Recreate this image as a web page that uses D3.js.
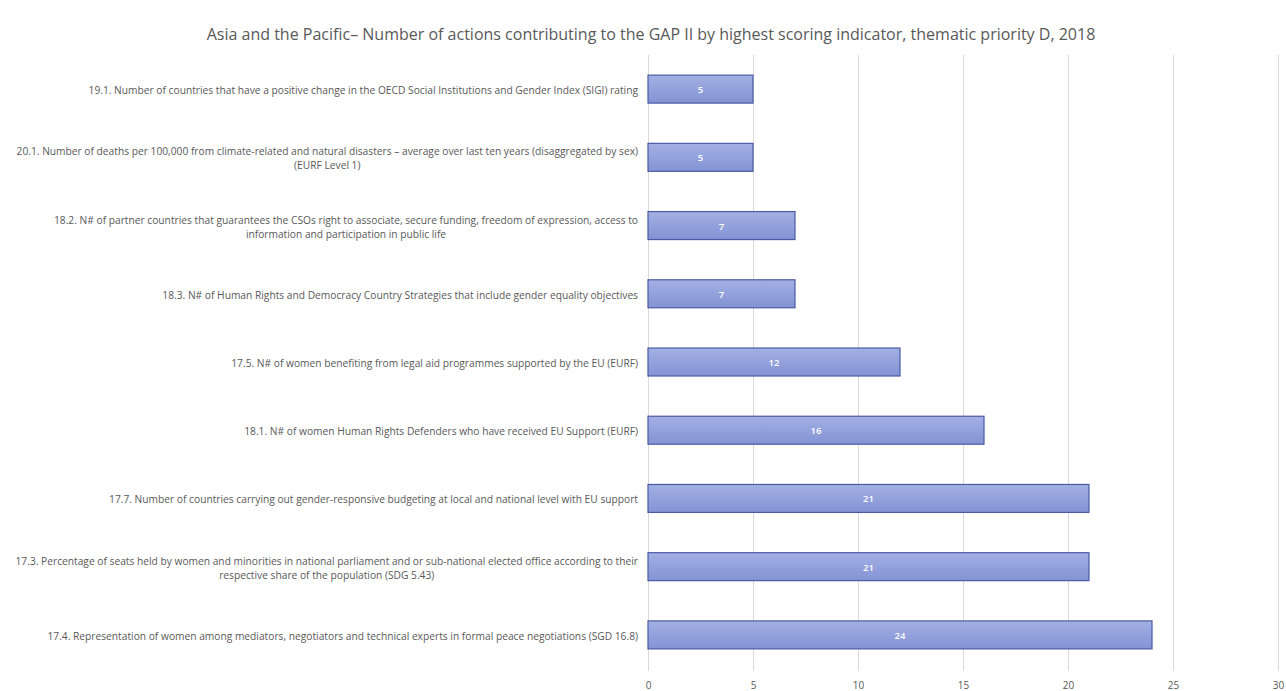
<!DOCTYPE html>
<html><head><meta charset="utf-8">
<script src="https://cdn.jsdelivr.net/npm/d3@7"></script>
<style>body{margin:0;background:#fff}svg{display:block}</style>
</head><body><svg id="c" width="1286" height="691"></svg>
<script>
const title = "Asia and the Pacific\u2013 Number of actions contributing  to the GAP II by highest scoring  indicator, thematic priority D, 2018";
const categories = [
  ["19.1. Number of countries that have a positive change in the OECD Social Institutions and Gender Index (SIGI) rating"],
  ["20.1. Number of deaths per 100,000 from climate-related and natural disasters \u2013 average  over last ten years  (disaggregated  by sex)", "(EURF Level 1)"],
  ["18.2. N# of partner countries that guarantees the CSOs right to associate, secure funding, freedom of expression, access to", "information and participation in public life"],
  ["18.3. N# of Human Rights and Democracy Country Strategies that include gender equality objectives"],
  ["17.5. N# of women benefiting from legal aid programmes supported by the EU (EURF)"],
  ["18.1. N# of women Human Rights Defenders who have received EU Support (EURF)"],
  ["17.7. Number of countries carrying out gender-responsive budgeting at local and national level with EU support"],
  ["17.3. Percentage of seats held by women and minorities in national parliament and or sub-national elected office according to their", "respective share of the population (SDG 5.43)"],
  ["17.4. Representation of women among mediators, negotiators  and technical experts in formal peace negotiations (SGD 16.8)"]
];
const values = [5, 5, 7, 7, 12, 16, 21, 21, 24];
const xTicks = [0, 5, 10, 15, 20, 25, 30];

const svg = d3.select("#c");
const font = "'Open Sans', Lato, sans-serif";
const pLeft = 648, pRight = 1278, pTop = 55, pBottom = 669;
const x = d3.scaleLinear().domain([0, 30]).range([pLeft, pRight]);
const y = d3.scaleBand().domain(d3.range(values.length)).range([pTop, pBottom]).paddingInner(0.59).paddingOuter(0.295);

// fit font size to a target width
function fitSize(str, target, base) {
  const t = svg.append("text").attr("font-family", font).attr("font-size", base).text(str);
  const w = t.node().getComputedTextLength();
  t.remove();
  return base * target / w;
}
const titleSize = Math.min(16, fitSize(title, 902, 14));
const labelSize = Math.min(11, fitSize(categories[8][0], 591, 9.5));

const defs = svg.append("defs");
const g = defs.append("linearGradient").attr("id","bg").attr("x1",0).attr("y1",0).attr("x2",0).attr("y2",1);
g.append("stop").attr("offset","0%").attr("stop-color","#a3b0e4");
g.append("stop").attr("offset","100%").attr("stop-color","#8393d4");

svg.append("text").attr("x", 651).attr("y", 40).attr("text-anchor","middle")
  .attr("font-family", font).attr("font-size", titleSize).attr("fill","#595959").text(title);

// gridlines
const grid = svg.append("g");
grid.selectAll("line").data(xTicks).join("line")
  .attr("x1", d=>x(d)).attr("x2", d=>x(d)).attr("y1", pTop).attr("y2", pBottom+2)
  .attr("stroke","#d9d9d9").attr("stroke-width",1).attr("shape-rendering","crispEdges");

// axis
const ax = svg.append("g").attr("transform",`translate(0,${pBottom})`)
  .call(d3.axisBottom(x).tickValues(xTicks).tickSize(0).tickPadding(13));
ax.select(".domain").remove();
ax.selectAll("text").attr("font-family", font).attr("font-size", 10).attr("fill","#595959");

// bars
svg.append("g").selectAll("rect").data(values).join("rect")
  .attr("x", x(0)).attr("y", (d,i)=>y(i)).attr("width", d=>x(d)-x(0)).attr("height", y.bandwidth())
  .attr("fill","url(#bg)").attr("stroke","#4a5ba3").attr("stroke-width",1.2);

svg.append("g").selectAll("text").data(values).join("text")
  .attr("x", d=>(x(0)+x(d))/2).attr("y", (d,i)=>y(i)+y.bandwidth()/2+4)
  .attr("text-anchor","middle").attr("font-family", font).attr("font-size", 9.5).attr("font-weight","600")
  .attr("fill","#ffffff").text(d=>d);

// category labels
const lab = svg.append("g");
categories.forEach((lines, i) => {
  const cy = y(i) + y.bandwidth()/2;
  const n = lines.length;
  const lh = 14;
  const texts = lines.map((s, k) => lab.append("text")
    .attr("font-family", font).attr("font-size", labelSize).attr("fill","#595959")
    .attr("y", cy + (k - (n-1)/2)*lh + 5).text(s));
  const widths = texts.map(t => t.node().getComputedTextLength());
  const maxW = Math.max(...widths);
  const cx = 638 - maxW/2;
  texts.forEach(t => t.attr("x", cx).attr("text-anchor","middle"));
});
</script></body></html>
